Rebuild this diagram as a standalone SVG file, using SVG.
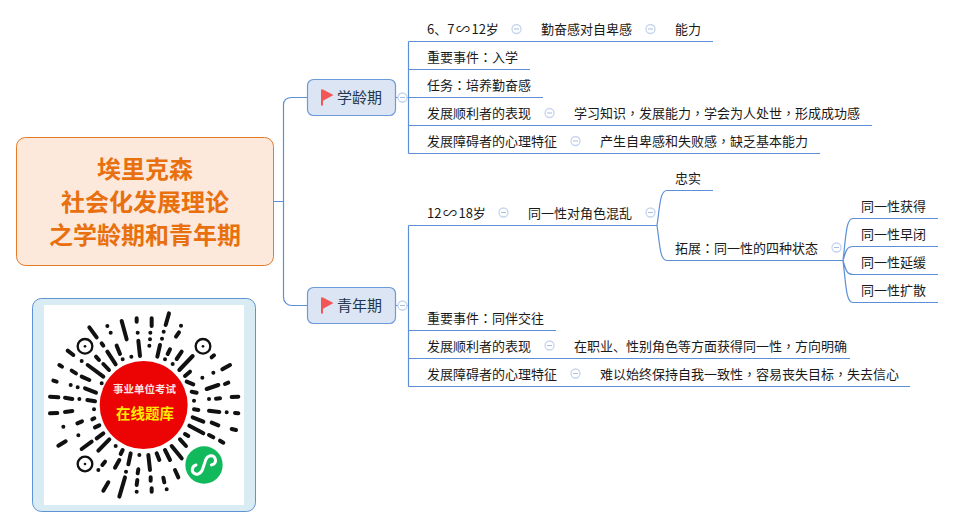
<svg xmlns="http://www.w3.org/2000/svg" width="954" height="528" viewBox="0 0 954 528">
<defs>
<style>
text{font-family:"Noto Sans CJK SC","Liberation Sans",sans-serif;font-size:13px;fill:#1a1a1a}
.p{font-family:"Noto Sans CJK TC",sans-serif}
.w{font-size:14px}
.c{fill:none;stroke:#5b8fd6;stroke-width:1.2}
.root{fill:#fde9db;stroke:#e37a28;stroke-width:1}
.rt{font-size:24px;font-weight:700;fill:#e8700f;text-anchor:middle}
.main{fill:#dbe5f3;stroke:#6b9bd8;stroke-width:1.2}
.mt{font-size:15px;fill:#22374f}
.q{fill:none;stroke:#111;stroke-width:12;stroke-linecap:round}
.d{fill:#111}
.r{fill:none;stroke:#111;stroke-width:7}
</style>
<g id="m"><circle r="4.5" fill="#fff" stroke="#c6d4ef" stroke-width="1.3"/><path d="M-2.5 0H2.5" stroke="#a9bde2" stroke-width="1"/></g>
<g id="flag"><path d="M321 89.5h2v16h-2z" fill="#f25656"/><path d="M323 89.5L333.500 95L323 100.800z" fill="#f25656"/></g>
</defs>
<rect width="954" height="528" fill="#fff"/>
<g id="connectors">
<path class="c" d="M274 201.500H283.500M283.500 201.500V105C283.500 100 287 97.500 292 97.500H307M283.500 201.500V297C283.500 302 287 305.500 292 305.500H307"/>
<path class="c" d="M396 97.500H408.500M408.500 41.500V153.500M408.500 41.500H713M408.500 69.500H530M408.500 97.500H543M408.500 125.500H872M408.500 153.500H820"/>
<path class="c" d="M396 305.500H408.500M408.500 225.500V386.500M408.500 225.500H657M408.500 330.500H556M408.500 358.500H850M408.500 386.500H910"/>
<path class="c" d="M650 225.500H657M657 225.500C660 205 660 190.500 667 190.500H713M657 225.500C660 246 660 260.500 667 260.500H843"/>
<path class="c" d="M843 260.500C846 236 846 218.500 853 218.500H938M843 260.500C846 250 847 246.500 853 246.500H938M843 260.500C846 271 847 274.500 853 274.500H938M843 260.500C846 285 846 302.500 853 302.500H938"/>
</g>
<g id="root"><rect class="root" x="16.500" y="137.500" width="257" height="128" rx="9"/>
<text class="rt" x="145" y="178">埃里克森</text><text class="rt" x="145" y="211">社会化发展理论</text><text class="rt" x="145" y="244">之学龄期和青年期</text></g>
<g id="school"><rect class="main" x="307.500" y="79.500" width="88" height="36" rx="6"/><use href="#flag"/><text class="mt" x="337" y="103">学龄期</text><use href="#m" x="402.500" y="97.500"/></g>
<g id="youth"><rect class="main" x="307.500" y="287.500" width="88" height="36" rx="6"/><use href="#flag" y="208"/><text class="mt" x="337" y="311">青年期</text><use href="#m" x="402.500" y="305.500"/></g>
<g id="s1"><text x="427" y="34">6、7<tspan class="w" dx="1.500">∽</tspan><tspan dx="1.500">12岁</tspan></text><use href="#m" x="516.500" y="29"/><text x="541" y="34">勤奋感对自卑感</text><use href="#m" x="650.500" y="29"/><text x="675" y="34">能力</text></g>
<g id="s2"><text x="427" y="62">重要事件<tspan class="p">：</tspan>入学</text></g>
<g id="s3"><text x="427" y="90">任务<tspan class="p">：</tspan>培养勤奋感</text></g>
<g id="s4"><text x="427" y="118">发展顺利者的表现</text><use href="#m" x="549.500" y="113"/><text x="574" y="118">学习知识<tspan class="p">，</tspan>发展能力<tspan class="p">，</tspan>学会为人处世<tspan class="p">，</tspan>形成成功感</text></g>
<g id="s5"><text x="427" y="146">发展障碍者的心理特征</text><use href="#m" x="575.500" y="141"/><text x="600" y="146">产生自卑感和失败感<tspan class="p">，</tspan>缺乏基本能力</text></g>
<g id="y1"><text x="427" y="218">12<tspan class="w" dx="1.500">∽</tspan><tspan dx="1.500">18岁</tspan></text><use href="#m" x="503.500" y="212.500"/><text x="528" y="218">同一性对角色混乱</text><use href="#m" x="650.500" y="212.500"/></g>
<g id="y1a"><text x="675" y="183">忠实</text></g>
<g id="y1b"><text x="675" y="253">拓展<tspan class="p">：</tspan>同一性的四种状态</text><use href="#m" x="836.500" y="247.500"/></g>
<g id="y1b1"><text x="861" y="211">同一性获得</text></g>
<g id="y1b2"><text x="861" y="239">同一性早闭</text></g>
<g id="y1b3"><text x="861" y="267">同一性延缓</text></g>
<g id="y1b4"><text x="861" y="295">同一性扩散</text></g>
<g id="y2"><text x="427" y="323">重要事件<tspan class="p">：</tspan>同伴交往</text></g>
<g id="y3"><text x="427" y="351">发展顺利者的表现</text><use href="#m" x="549.500" y="345.500"/><text x="574" y="351">在职业、性别角色等方面获得同一性<tspan class="p">，</tspan>方向明确</text></g>
<g id="y4"><text x="427" y="379">发展障碍者的心理特征</text><use href="#m" x="575.500" y="373.500"/><text x="600" y="379">难以始终保持自我一致性<tspan class="p">，</tspan>容易丧失目标<tspan class="p">，</tspan>失去信心</text></g>
<g id="qr">
<rect x="32.500" y="298.500" width="223" height="213" rx="9" fill="#daecf3" stroke="#5f93d3"/>
<rect x="44" y="305" width="200" height="200" fill="#fff"/>
<g transform="translate(0 280) scale(.33333)">
<circle class="r" cx="255" cy="199" r="22"/><circle class="d" cx="255" cy="199" r="4"/>
<circle class="r" cx="609" cy="199" r="22"/><circle class="d" cx="609" cy="199" r="4"/>
<circle class="r" cx="255" cy="552" r="22"/><circle class="d" cx="255" cy="552" r="4"/>
<path class="q" d="M322 138h.1M332 158h.1M268 142L290 172M365 123L380 178M410 115V125M413 158h.1M455 115V138M451 158h.1M507 100L497 135M491 155h.1M543 137h.1M537 157L528 170M305 190L310 197M415 182L420 228M450 178h.1M486 176h.1M448 197h.1M480 195L472 230M350 197L360 222M510 208L503 222M545 215L530 237M203 212L220 225M322 215L347 253M288 230L297 240M368 238h.1M394 230h.1M495 238h.1M245 243h.1M578 228L538 270M518 252h.1M642 226L635 232M178 255L186 260M263 255L310 290M310 252L327 270M690 255L667 268M640 278h.1M215 272L228 280M245 290L268 300M570 275L555 288M607 293h.1M160 302L170 305M212 315h.1M233 322h.1M255 325L288 338M305 310h.1M560 305L580 313M620 327L655 315M685 308L675 312M575 335L590 338M150 350L175 352M195 353L217 357M238 357h.1M262 360L285 364M582 362h.1M627 357h.1M648 356L660 355M695 351L715 350M150 400L172 399M195 396L217 393M282 388h.1M582 388L595 390M627 392L658 396M680 397h.1M705 399L715 400M283 415L277 418M578 412L610 425M635 428L655 436M190 440h.1M232 430L246 424M285 442L298 436M568 437L610 460M695 447L708 450M235 466h.1M290 475L310 460M555 462L565 468M627 465L640 472M660 482L670 488M175 497L197 484M245 507L275 485M295 512L328 478M347 498h.1M540 478L558 498M515 498L545 535M495 510L510 540M470 520L478 540M445 525L450 570M418 525h.1M392 520L385 553M368 510L362 522M358 540L345 563M315 545L307 555M295 570h.1M378 575h.1M415 568L413 580M525 570L535 592M452 592V602M490 593L493 607M412 600L410 615M375 592L358 650M325 607L310 632M410 635h.1M455 625V635M500 628h.1"/>
<circle cx="431" cy="375" r="132" fill="#ec0404"/>
<circle cx="612" cy="555" r="56" fill="#12b95c"/>
<path d="M588 555C577 558 574 572 580 578C590 588 602 580 607 570L617 540C622 526 640 522 645 535C650 548 642 553 634 555" fill="none" stroke="#fff" stroke-width="9" stroke-linecap="round"/>
</g>
<text x="144.500" y="393" style="font-size:10.500px;font-weight:700;fill:#fbe3e3;text-anchor:middle">事业单位考试</text>
<text x="145" y="419" style="font-size:14.500px;font-weight:700;fill:#ffea00;text-anchor:middle">在线题库</text>
</g>
</svg>
